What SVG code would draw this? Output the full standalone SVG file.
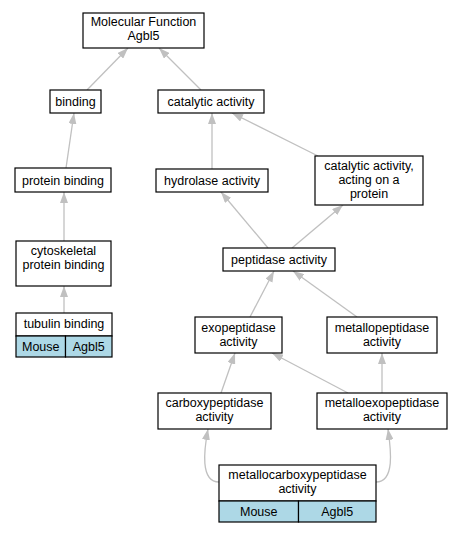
<svg xmlns="http://www.w3.org/2000/svg" width="461" height="533" viewBox="0 0 461 533">
<style>
.n rect{fill:#fff;stroke:#000;stroke-width:1.2}
.n rect.c{fill:#add8e6}
text{font-family:"Liberation Sans",Arial,sans-serif;font-size:12.5px;text-anchor:middle;fill:#000}
.e path{fill:none;stroke:#c0c0c0;stroke-width:1.3;marker-end:url(#a)}
</style>
<defs>
<marker id="a" markerUnits="userSpaceOnUse" markerWidth="11" markerHeight="8" refX="11" refY="4" orient="auto">
<path d="M0,0 L11,4 L0,8 z" fill="#c0c0c0"/>
</marker>
</defs>
<rect width="461" height="533" fill="#fff"/>
<g class="e">
<path d="M87,90 L128,48"/>
<path d="M201,90 L159,48"/>
<path d="M66,168 L74,113"/>
<path d="M212,169 L212,113"/>
<path d="M318,156 L232,113"/>
<path d="M268,248 L221,192"/>
<path d="M292,248 L343,205"/>
<path d="M64,241 L64,192"/>
<path d="M64,313 L64,286"/>
<path d="M250,317 L274,271"/>
<path d="M357,317 L293,271"/>
<path d="M221,393 L235,353"/>
<path d="M348,393 L272,353"/>
<path d="M382,393 L382,353"/>
<path d="M219,482 C200,482 204,450 208,429"/>
<path d="M376,482 C395,482 391,450 388,429"/>
</g>
<g id="mf" class="n"><rect x="83" y="13" width="121" height="35"/><text x="143.5" y="25.5">Molecular Function</text><text x="143.5" y="39.5">Agbl5</text></g>
<g id="binding" class="n"><rect x="50" y="90" width="51" height="23"/><text x="75.5" y="106">binding</text></g>
<g id="catalytic" class="n"><rect x="158" y="90" width="106" height="23"/><text x="211" y="106">catalytic activity</text></g>
<g id="protein-binding" class="n"><rect x="15" y="168" width="96" height="24"/><text x="63" y="184.5">protein binding</text></g>
<g id="hydrolase" class="n"><rect x="156" y="169" width="112" height="23"/><text x="212" y="184.5">hydrolase activity</text></g>
<g id="cat-protein" class="n"><rect x="315" y="156" width="108" height="49"/><text x="369" y="170">catalytic activity,</text><text x="369" y="184">acting on a</text><text x="369" y="198">protein</text></g>
<g id="peptidase" class="n"><rect x="223" y="248" width="112" height="23"/><text x="279" y="263.5">peptidase activity</text></g>
<g id="cytoskeletal" class="n"><rect x="16" y="241" width="95" height="45"/><text x="63.5" y="255">cytoskeletal</text><text x="63.5" y="269">protein binding</text></g>
<g id="tubulin" class="n"><rect x="16" y="313" width="96" height="23"/><rect class="c" x="16" y="336" width="49.5" height="21"/><rect class="c" x="65.5" y="336" width="46.5" height="21"/><text x="64" y="328">tubulin binding</text><text x="40.75" y="350.5">Mouse</text><text x="88.75" y="350.5">Agbl5</text></g>
<g id="exopeptidase" class="n"><rect x="195" y="317" width="87" height="36"/><text x="238.5" y="331.5">exopeptidase</text><text x="238.5" y="345.5">activity</text></g>
<g id="metallopeptidase" class="n"><rect x="327" y="317" width="110" height="36"/><text x="382" y="331.5">metallopeptidase</text><text x="382" y="345.5">activity</text></g>
<g id="carboxypeptidase" class="n"><rect x="158" y="393" width="113" height="36"/><text x="214.5" y="407">carboxypeptidase</text><text x="214.5" y="421">activity</text></g>
<g id="metalloexopeptidase" class="n"><rect x="317" y="393" width="130" height="36"/><text x="382" y="407">metalloexopeptidase</text><text x="382" y="421">activity</text></g>
<g id="metallocarboxypeptidase" class="n"><rect x="219" y="465" width="157" height="36"/><rect class="c" x="219" y="501" width="79.5" height="21"/><rect class="c" x="298.5" y="501" width="77.5" height="21"/><text x="297.5" y="479">metallocarboxypeptidase</text><text x="297.5" y="493">activity</text><text x="258.75" y="515.5">Mouse</text><text x="337.25" y="515.5">Agbl5</text></g>
</svg>
